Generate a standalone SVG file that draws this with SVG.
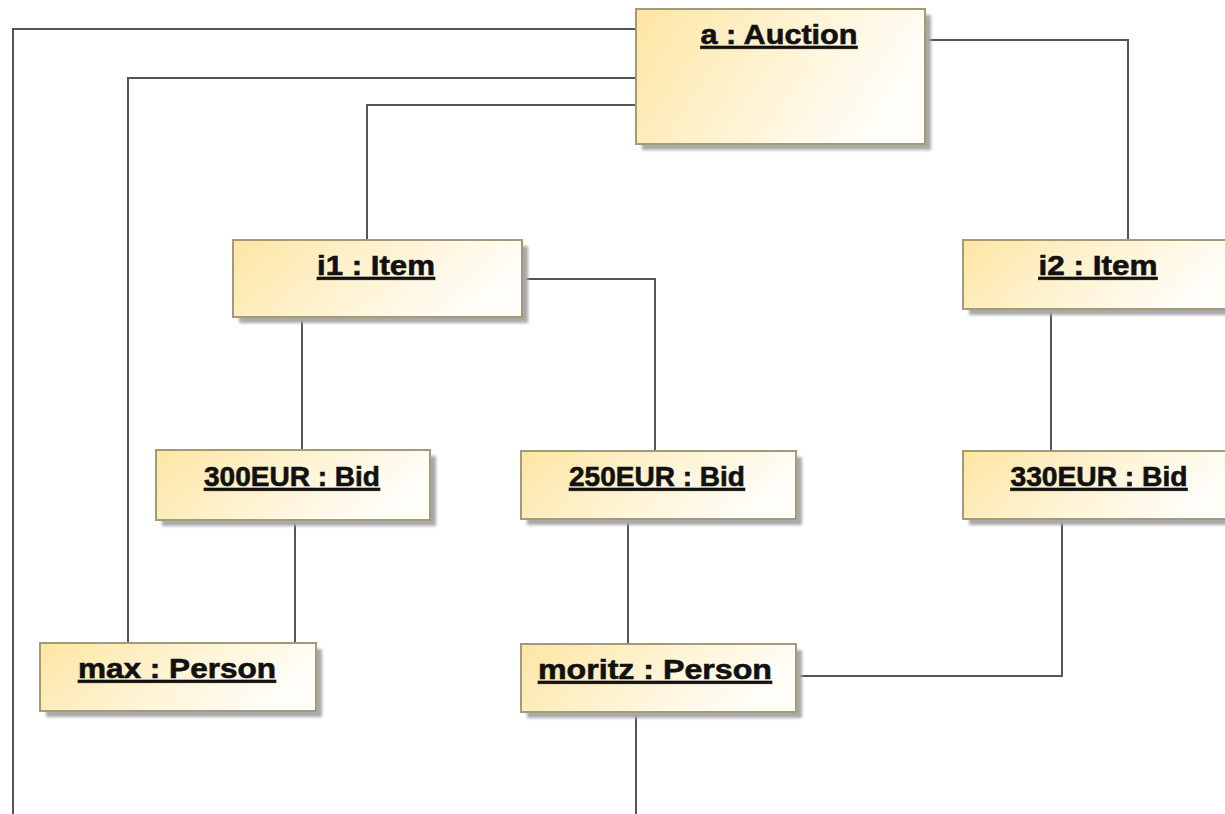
<svg xmlns="http://www.w3.org/2000/svg" width="1225" height="814" viewBox="0 0 1225 814">
<defs>
<linearGradient id="fill" x1="0" y1="0" x2="1" y2="0.3">
<stop offset="0" stop-color="#fde5a2"/>
<stop offset="0.5" stop-color="#fef2cf"/>
<stop offset="1" stop-color="#fffdf8"/>
</linearGradient>
<filter id="sh" x="-5%" y="-5%" width="115%" height="130%">
<feGaussianBlur stdDeviation="1.5"/>
</filter>
<style>
.shadow{fill:#a9a9a9;filter:url(#sh)}
.box{fill:url(#fill);stroke:#a39b78;stroke-width:2}
.lbl{font-family:"Liberation Sans",Arial,sans-serif;font-weight:bold;font-size:28px;fill:#111;stroke:#111;stroke-width:0.6;text-anchor:middle;text-decoration:underline}
.conn{fill:none;stroke:#555;stroke-width:2}
</style>
</defs>
<rect width="1225" height="814" fill="#ffffff"/>
<g id="connectors">
<polyline class="conn" points="636,29 13,29 13,814"/>
<polyline class="conn" points="636,78 128,78 128,643"/>
<polyline class="conn" points="636,105 367,105 367,240"/>
<polyline class="conn" points="925,40 1128,40 1128,240"/>
<polyline class="conn" points="522,279 655,279 655,451"/>
<line class="conn" x1="302" y1="317" x2="302" y2="450"/>
<line class="conn" x1="1051" y1="309" x2="1051" y2="451"/>
<line class="conn" x1="295" y1="520" x2="295" y2="643"/>
<line class="conn" x1="628" y1="519" x2="628" y2="644"/>
<polyline class="conn" points="1062,519 1062,676 796,676"/>
<line class="conn" x1="636" y1="712" x2="636" y2="814"/>
</g>
<g id="auction">
<rect class="shadow" x="642" y="15" width="289" height="135"/>
<rect class="box" x="636" y="9" width="289" height="135"/>
<text class="lbl" x="779" y="44" textLength="157" lengthAdjust="spacingAndGlyphs">a : Auction</text>
</g>
<g id="i1">
<rect class="shadow" x="239" y="246" width="289" height="77"/>
<rect class="box" x="233" y="240" width="289" height="77"/>
<text class="lbl" x="376" y="275" textLength="118" lengthAdjust="spacingAndGlyphs">i1 : Item</text>
</g>
<g id="i2">
<rect class="shadow" x="969" y="246" width="270" height="69"/>
<rect class="box" x="963" y="240" width="270" height="69"/>
<text class="lbl" x="1098" y="275" textLength="119" lengthAdjust="spacingAndGlyphs">i2 : Item</text>
</g>
<g id="bid300">
<rect class="shadow" x="162" y="456" width="274" height="70"/>
<rect class="box" x="156" y="450" width="274" height="70"/>
<text class="lbl" x="292" y="486" textLength="176" lengthAdjust="spacingAndGlyphs">300EUR : Bid</text>
</g>
<g id="bid250">
<rect class="shadow" x="527" y="457" width="275" height="68"/>
<rect class="box" x="521" y="451" width="275" height="68"/>
<text class="lbl" x="657" y="486" textLength="176" lengthAdjust="spacingAndGlyphs">250EUR : Bid</text>
</g>
<g id="bid330">
<rect class="shadow" x="969" y="457" width="270" height="68"/>
<rect class="box" x="963" y="451" width="270" height="68"/>
<text class="lbl" x="1099" y="486" textLength="177" lengthAdjust="spacingAndGlyphs">330EUR : Bid</text>
</g>
<g id="max">
<rect class="shadow" x="46" y="649" width="276" height="68"/>
<rect class="box" x="40" y="643" width="276" height="68"/>
<text class="lbl" x="177" y="678" textLength="198" lengthAdjust="spacingAndGlyphs">max : Person</text>
</g>
<g id="moritz">
<rect class="shadow" x="527" y="650" width="275" height="68"/>
<rect class="box" x="521" y="644" width="275" height="68"/>
<text class="lbl" x="655" y="679" textLength="234" lengthAdjust="spacingAndGlyphs">moritz : Person</text>
</g>
</svg>
